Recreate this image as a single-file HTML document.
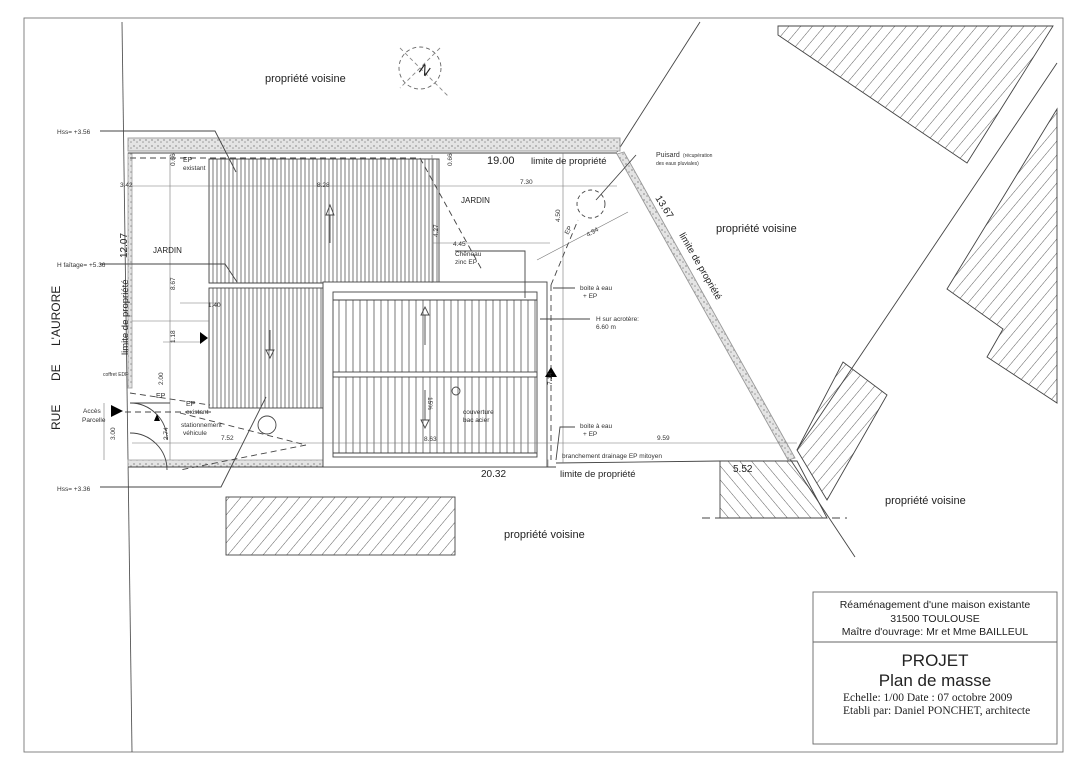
<!DOCTYPE html>
<html><head><meta charset="utf-8"><style>
html,body{margin:0;padding:0;background:#fff;}
svg{display:block;font-family:"Liberation Sans",sans-serif;}
</style></head><body>
<svg width="1090" height="771" viewBox="0 0 1090 771" xmlns="http://www.w3.org/2000/svg">
<defs>
<pattern id="vh" width="4" height="10" patternUnits="userSpaceOnUse"><line x1="1" y1="0" x2="1" y2="10" stroke="#555" stroke-width="0.8"/></pattern>
<pattern id="vh2" width="7" height="10" patternUnits="userSpaceOnUse"><line x1="3" y1="0" x2="3" y2="10" stroke="#555" stroke-width="0.8"/></pattern>
<pattern id="dh" width="9" height="9" patternUnits="userSpaceOnUse" patternTransform="rotate(-40)"><line x1="0" y1="0" x2="0" y2="9" stroke="#333" stroke-width="0.8"/></pattern>
<pattern id="dh2" width="9" height="9" patternUnits="userSpaceOnUse" patternTransform="rotate(40)"><line x1="0" y1="0" x2="0" y2="9" stroke="#333" stroke-width="0.8"/></pattern>
<pattern id="gr" width="6" height="6" patternUnits="userSpaceOnUse"><rect width="6" height="6" fill="#e4e4e4"/><circle cx="2" cy="2" r="1" fill="#aaa"/><circle cx="5" cy="4" r="0.8" fill="#999"/></pattern>
</defs>
<g fill="none" stroke="#444" stroke-width="0.9">
<rect x="24" y="18" width="1039" height="734" stroke="#777"/>
<line x1="122" y1="22" x2="132" y2="752" stroke="#555"/>
<polygon points="778,26 1053,26 967,163 778,35" fill="url(#dh2)" stroke="#444"/>
<polygon points="1057,109 947,289 1003,329 987,357 1057,403" fill="url(#dh2)" stroke="#444"/>
<polygon points="843,362 887,395 827,500 797,450" fill="url(#dh2)"/>
<polygon points="720,461 797,461 827,518 720,518" fill="url(#dh)"/>
<line x1="702" y1="518" x2="847" y2="518" stroke-dasharray="8,5"/>
<rect x="226" y="497" width="229" height="58" fill="url(#dh2)"/>
<line x1="1057" y1="63" x2="797" y2="450"/>
<line x1="700" y1="22" x2="617" y2="152"/>
<line x1="790" y1="459" x2="855" y2="557"/>
<line x1="720" y1="461" x2="556" y2="463"/>
<rect x="128" y="138" width="492" height="13" fill="url(#gr)" stroke="#999"/>
<polygon points="617,154 624,152 795,458 788,460" fill="url(#gr)" stroke="#999"/>
<rect x="128" y="153" width="4" height="235" fill="url(#gr)" stroke="#aaa"/>
<rect x="128" y="460" width="420" height="7" fill="url(#gr)" stroke="#aaa"/>
<line x1="128" y1="153" x2="617" y2="153"/>
<line x1="128" y1="467" x2="556" y2="467"/>
<rect x="209" y="159" width="230" height="124" fill="url(#vh)"/>
<rect x="209" y="288" width="114" height="120" fill="url(#vh)"/>
<line x1="209" y1="283" x2="323" y2="283"/>
<rect x="323" y="282" width="224" height="185" fill="#fff"/>
<rect x="333" y="292" width="204" height="165"/>
<rect x="333" y="300" width="204" height="153" fill="url(#vh2)" stroke="none"/>
<rect x="333" y="372" width="204" height="5" fill="#fff"/>
<line x1="333" y1="300" x2="537" y2="300"/><line x1="333" y1="453" x2="537" y2="453"/>
<g stroke="#777" stroke-width="0.6">
<line x1="132" y1="186" x2="617" y2="186"/>
<line x1="433" y1="243" x2="550" y2="243"/>
<line x1="132" y1="443" x2="797" y2="443"/>
<line x1="563" y1="153" x2="563" y2="463"/>
<line x1="170" y1="155" x2="170" y2="460"/>
<line x1="432" y1="155" x2="432" y2="283"/>
<line x1="180" y1="303" x2="220" y2="303"/>
<line x1="163" y1="342" x2="200" y2="342"/>
<line x1="104" y1="403" x2="104" y2="460"/>
<line x1="132" y1="321" x2="209" y2="321"/>
<line x1="537" y1="260" x2="628" y2="212"/>
</g>
<g stroke-dasharray="6,4" stroke="#444">
<line x1="551" y1="285" x2="551" y2="460"/>
<line x1="551" y1="285" x2="578" y2="220"/>
<line x1="130" y1="158" x2="420" y2="158"/>
<line x1="420" y1="158" x2="482" y2="270"/>
<line x1="125" y1="412" x2="215" y2="412"/>
<polyline points="180,413 306,445 180,470"/>
<line x1="130" y1="393" x2="210" y2="405"/>
</g>
<circle cx="591" cy="204" r="14" stroke-dasharray="4,3"/>
<line x1="636" y1="155" x2="596" y2="200"/>
<path d="M130,403 A37,37 0 0 1 167,440"/>
<path d="M130,433 A37,37 0 0 1 167,470"/>
<line x1="130" y1="403" x2="170" y2="403"/>
<polyline points="100,131 215,131 236,172"/>
<polyline points="100,264 225,264 237,282"/>
<polyline points="100,487 221,487 266,397"/>
<polyline points="455,251 525,251 525,298"/>
<polyline points="575,288 553,288"/>
<polyline points="590,319 540,319"/>
<polyline points="575,427 560,427 556,460"/>
<circle cx="456" cy="391" r="4"/>
<circle cx="267" cy="425" r="9"/>
<line x1="330" y1="215" x2="330" y2="243"/><polygon points="326,215 334,215 330,205"/>
<line x1="270" y1="330" x2="270" y2="350"/><polygon points="266,350 274,350 270,358"/>
<line x1="425" y1="315" x2="425" y2="345"/><polygon points="421,315 429,315 425,307"/>
<line x1="425" y1="390" x2="425" y2="420"/><polygon points="421,420 429,420 425,428"/>
<circle cx="420" cy="68" r="21" stroke-dasharray="4,3" stroke="#666"/>
<line x1="400" y1="48" x2="448" y2="96" stroke="#888" stroke-dasharray="4,3"/>
<line x1="440" y1="48" x2="400" y2="88" stroke="#888" stroke-dasharray="4,3"/>
<rect x="813" y="592" width="244" height="152" stroke="#666"/>
<line x1="813" y1="642" x2="1057" y2="642" stroke="#666"/>
</g>
<g fill="#000">
<polygon points="200,332 200,344 208,338"/>
<polygon points="111,405 111,417 123,411"/>
<polygon points="545,377 557,377 551,367"/>
<polygon points="154,421 160,421 157,414"/>
</g>
<g font-size="11" fill="#222">
<text x="265" y="82">propriété voisine</text>
<text x="716" y="232">propriété voisine</text>
<text x="885" y="504">propriété voisine</text>
<text x="504" y="538">propriété voisine</text>
<text x="487" y="164">19.00</text>
<text x="531" y="164" font-size="9.5">limite de propriété</text>
<text x="560" y="477" font-size="9.5">limite de propriété</text>
<text x="481" y="477" font-size="10">20.32</text>
<text x="733" y="472" font-size="10">5.52</text>
<text x="461" y="203" font-size="8">JARDIN</text>
<text x="153" y="253" font-size="8">JARDIN</text>
<text transform="translate(422 74) rotate(35)" font-size="14" text-anchor="middle">N</text>
<text transform="translate(60 430) rotate(-90)" font-size="12">RUE</text>
<text transform="translate(60 381) rotate(-90)" font-size="12">DE</text>
<text transform="translate(60 346) rotate(-90)" font-size="12">L'AURORE</text>
<text transform="translate(128 355) rotate(-90)" font-size="9.5">limite de propriété</text>
<text transform="translate(127 258) rotate(-90)" font-size="10">12.07</text>
<text transform="translate(655 198) rotate(58)" font-size="10">13.67</text>
<text transform="translate(679 235) rotate(60)" font-size="9.5">limite de propriété</text>
</g>
<g font-size="6.5" fill="#333">
<text x="57" y="134">Hss= +3.56</text>
<text x="57" y="267">H faîtage= +5.36</text>
<text x="57" y="491">Hss= +3.36</text>
<text x="183" y="162" font-size="7">EP</text><text x="183" y="170">existant</text>
<text x="120" y="187">3.42</text><text x="317" y="187">8.28</text><text x="520" y="184">7.30</text>
<text x="453" y="246">4.45</text><text x="208" y="307">1.40</text>
<text x="455" y="256">Chêneau</text><text x="455" y="264">zinc EP</text>
<text x="656" y="157" font-size="7">Puisard</text><text x="683" y="157" font-size="5">(récupération</text><text x="656" y="165" font-size="5">des eaux pluviales)</text>
<text x="580" y="290">boite à eau</text><text x="583" y="298">+ EP</text>
<text x="580" y="428">boite à eau</text><text x="583" y="436">+ EP</text>
<text x="596" y="321">H sur acrotère:</text><text x="596" y="329">6.60 m</text>
<text x="657" y="440">9.59</text>
<text x="562" y="458">branchement drainage EP mitoyen</text>
<text x="83" y="413">Accès</text><text x="82" y="422">Parcelle</text>
<text x="103" y="376" font-size="5">coffret EDF</text>
<text x="186" y="406" font-size="7">EP</text><text x="186" y="414">existant</text>
<text x="181" y="427">stationnement</text><text x="183" y="435">véhicule</text>
<text x="221" y="440">7.52</text><text x="424" y="441">8.63</text>
<text x="463" y="414">couverture</text><text x="463" y="422">bac acier</text>
<text x="156" y="398" font-size="7">EP</text>
<text transform="translate(115 440) rotate(-90)">3.00</text>
<text transform="translate(168 440) rotate(-90)">2.74</text>
<text transform="translate(163 385) rotate(-90)">2.00</text>
<text transform="translate(175 290) rotate(-90)">8.67</text>
<text transform="translate(175 343) rotate(-90)">1.18</text>
<text transform="translate(175 166) rotate(-90)">0.66</text>
<text transform="translate(452 166) rotate(-90)">0.66</text>
<text transform="translate(438 237) rotate(-90)">4.27</text>
<text transform="translate(560 222) rotate(-90)">4.50</text>
<text transform="translate(552 385) rotate(-90)">7.14</text>
<text transform="translate(428 397) rotate(90)">15%</text>
<text transform="translate(568 235) rotate(-60)">EP</text>
<text transform="translate(588 237) rotate(-30)">4.94</text>
</g>
<g font-size="10.5" fill="#222" text-anchor="middle">
<text x="935" y="608">Réaménagement d'une maison existante</text>
<text x="935" y="622">31500 TOULOUSE</text>
<text x="935" y="635">Maître d'ouvrage:  Mr et Mme BAILLEUL</text>
<text x="935" y="666" font-size="17">PROJET</text>
<text x="935" y="686" font-size="17">Plan de masse</text>
</g>
<g font-family="Liberation Serif,serif" font-size="11.5" fill="#222">
<text x="843" y="701">Echelle: 1/00   Date : 07 octobre 2009</text>
<text x="843" y="714">Etabli par: Daniel PONCHET, architecte</text>
</g>
</svg>
</body></html>
